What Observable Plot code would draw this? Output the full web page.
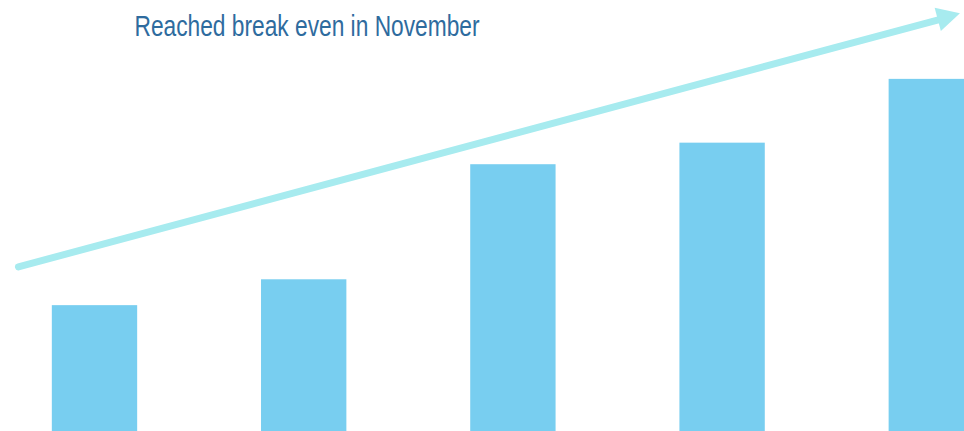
<!DOCTYPE html>
<html>
<head>
<meta charset="utf-8">
<script src="https://cdn.jsdelivr.net/npm/d3@7"></script>
<script src="https://cdn.jsdelivr.net/npm/@observablehq/plot@0.6"></script>
<style>
  html, body { margin: 0; padding: 0; background: #ffffff; }
  #chart { width: 964px; height: 431px; overflow: hidden; }
  #chart svg { display: block; }
</style>
</head>
<body>
<div id="chart"></div>
<script>
// ---- data ----
const months = ["Jul", "Aug", "Sep", "Oct", "Nov"];
const values = [29.2, 35.2, 61.9, 66.9, 81.7];
const title = "Reached break even in November";
// trend arrow annotation, in data units (month index, value)
const trendStart = [-0.366, 38.2];
const trendEnd = [4.137, 96.9];

const data = months.map((m, i) => ({month: m, i, value: values[i]}));
const trend = [{x1: trendStart[0], y1: trendStart[1], x2: trendEnd[0], y2: trendEnd[1]}];

const halfBar = 0.204;
const barColor = "#78cef0";
const arrowColor = "#a7ebef";

// filled arrow head drawn through the plot's scales
function arrowHead(index, scales) {
  const {x, y} = scales;
  const d = trend[0];
  const px1 = x(d.x1), py1 = y(d.y1), px2 = x(d.x2), py2 = y(d.y2);
  const len = Math.hypot(px2 - px1, py2 - py1);
  const ux = (px2 - px1) / len, uy = (py2 - py1) / len;
  const L = 23, W = 12;
  const bx = px2 - ux * L, by = py2 - uy * L;
  const pts = [
    [px2, py2],
    [bx - uy * W, by + ux * W],
    [bx + uy * W, by - ux * W]
  ];
  const path = d3.create("svg:path")
    .attr("d", "M" + pts.map(p => p.join(",")).join("L") + "Z")
    .attr("fill", arrowColor);
  return path.node();
}

const chart = Plot.plot({
  width: 964,
  height: 431,
  margin: 0,
  x: {domain: [-0.4517, 4.1563], axis: null},
  y: {domain: [0, 100], axis: null},
  style: {background: "#ffffff", overflow: "hidden"},
  marks: [
    Plot.rectY(data, {
      x1: d => d.i - halfBar,
      x2: d => d.i + halfBar,
      y: "value",
      fill: barColor
    }),
    Plot.arrow(trend, {
      x1: "x1", y1: "y1", x2: "x2", y2: "y2",
      stroke: arrowColor,
      strokeWidth: 7,
      headLength: 0,
      insetEnd: 18,
      strokeLinecap: "round"
    }),
    arrowHead,
    Plot.text([title], {
      text: d => d,
      frameAnchor: "top-left",
      textAnchor: "start",
      lineAnchor: "bottom",
      dx: 134,
      dy: 35,
      fill: "#2e6b9e",
      fontSize: 29,
      fontFamily: "'Liberation Sans Narrow', 'Liberation Sans', Arial, sans-serif"
    })
  ]
});
// condense the title to the reference's narrow width
d3.select(chart).selectAll("text")
  .filter(function() { return this.textContent === title; })
  .attr("textLength", 345)
  .attr("lengthAdjust", "spacingAndGlyphs");
document.getElementById("chart").appendChild(chart);
</script>
</body>
</html>
